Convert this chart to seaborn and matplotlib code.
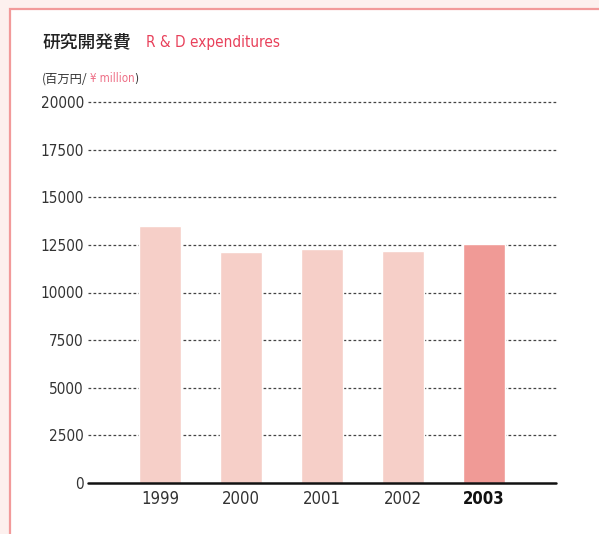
import matplotlib
matplotlib.use("Agg")
import matplotlib.pyplot as plt
import seaborn as sns
import pandas as pd
from matplotlib.patches import Rectangle

# Data
years = ['1999', '2000', '2001', '2002', '2003']
expenditures = [13490, 12130, 12280, 12180, 12540]
bar_colors = ['#f6cfc8', '#f6cfc8', '#f6cfc8', '#f6cfc8', '#f09a96']
y_ticks = [0, 2500, 5000, 7500, 10000, 12500, 15000, 17500, 20000]

sns.set_theme(style="white")
narrow = ['Liberation Sans Narrow', 'DejaVu Sans']
plt.rcParams['font.family'] = narrow
plt.rcParams['font.stretch'] = 'condensed'

df = pd.DataFrame({'year': years, 'value': expenditures})

fig = plt.figure(figsize=(5.99, 5.34), dpi=100)
fig.patch.set_facecolor('#fdf0ee')

# white panel with pink frame
W, H = 599, 534
panel = Rectangle((10 / W, -0.1), 1.1, 1 - 9 / H + 0.1, transform=fig.transFigure,
                  facecolor='white', edgecolor='#f29a9a', linewidth=1.6, zorder=-5)
fig.patches.append(panel)

ax = fig.add_axes([88 / W, 1 - 483 / H, (556 - 88) / W, (483 - 102) / H])
ax.set_facecolor('none')

sns.barplot(data=df, x='year', y='value', hue='year', palette=bar_colors,
            width=0.52, legend=False, ax=ax, zorder=2, saturation=1)

ax.set_xlim(-0.889, 4.889)
ax.set_ylim(0, 20000)
ax.set_yticks(y_ticks)
ax.set_yticklabels([str(t) for t in y_ticks], fontsize=11, color='#333333')

for t in y_ticks[1:]:
    ax.axhline(t, color='#444444', linestyle=(0, (2.2, 1.8)), linewidth=0.9,
               zorder=1, clip_on=False)
ax.axhline(0, color='#111111', linewidth=1.8, zorder=3, clip_on=False)

for s in ax.spines.values():
    s.set_visible(False)
ax.tick_params(axis='y', length=0, pad=3)
ax.tick_params(axis='x', length=0, pad=5)
ax.set_xlabel('')
ax.set_ylabel('')
for i, lab in enumerate(ax.get_xticklabels()):
    lab.set_fontsize(12)
    lab.set_color('#333333')
    if i == len(years) - 1:
        lab.set_fontweight('bold')
        lab.set_color('#111111')

# Titles
jp = ['Noto Sans CJK JP', 'DejaVu Sans']
fig.text(42 / W, 1 - 42 / H, '研究開発費', family=jp, fontsize=12.8, color='#222222',
         fontweight='medium', va='center', ha='left')
fig.text(146 / W, 1 - 42 / H, 'R & D expenditures', family=narrow, fontsize=11,
         color='#e8405a', va='center', ha='left')
fig.text(42 / W, 1 - 79 / H, '(百万円/', family=jp, fontsize=8.8, color='#333333',
         va='center', ha='left')
fig.text(90 / W, 1 - 79 / H, '¥ million', family=narrow, fontsize=8.3,
         color='#ee6f86', va='center', ha='left')
fig.text(134 / W, 1 - 79 / H, ')', family=narrow, fontsize=8.3,
         color='#333333', va='center', ha='left')

fig.savefig('out.png', dpi=100, facecolor=fig.get_facecolor())
